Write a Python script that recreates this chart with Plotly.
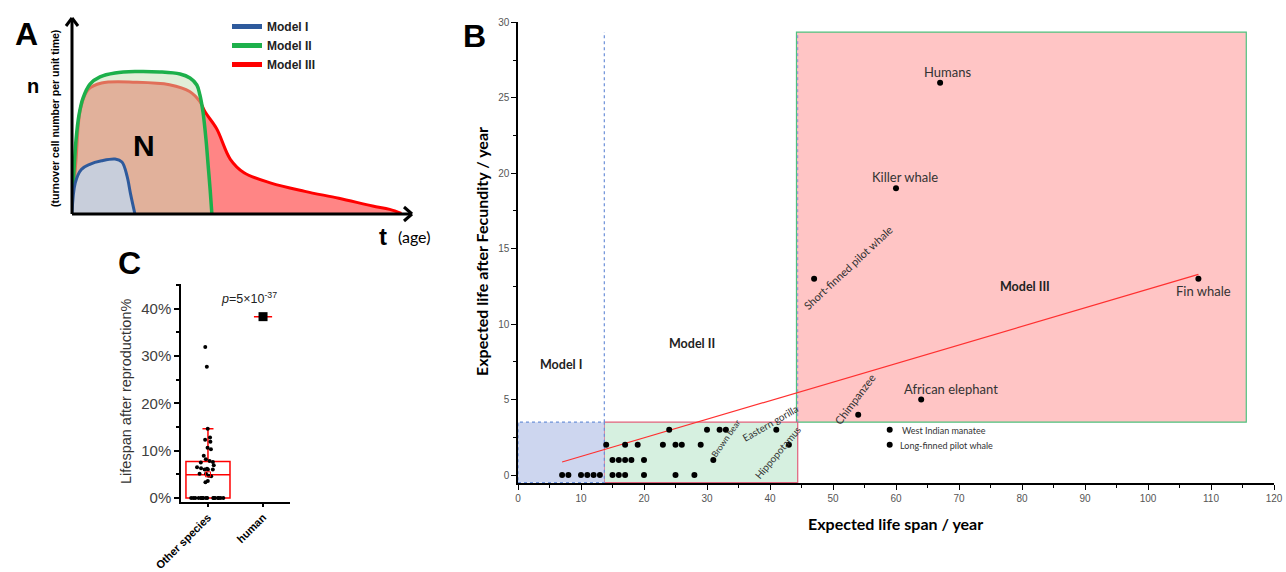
import plotly.graph_objects as go

W, H = 1286, 572


def fx(p):
    return p / W


def fy(p):
    return 1 - p / H


# ---------------- Panel A: schematic curves (t = age, n = turnover cells), arbitrary units ----------------
model1_t = [0, 0.94, 2.72, 5.2, 8.65, 12.6, 14.6, 16.1, 17.1, 18.4]
model1_n = [0, 16.1, 23.2, 25.9, 27.7, 28.6, 27.1, 19.7, 10.6, 0]

model2_t = [0, 0.29, 0.58, 1.17, 2.05, 3.22, 5.26, 8.19, 12.57, 18.4, 25.7, 31.6, 34.5, 36.5, 37.4, 38.3, 39.2, 39.8, 40.4, 40.9]
model2_n = [0, 12.5, 22.9, 38.5, 51.6, 60.4, 67.7, 71.4, 73.4, 74.2, 74.0, 72.9, 70.8, 67.2, 62.0, 53.1, 38.5, 25.5, 12.5, 0]

model3_t = [0, 1.17, 2.51, 4.68, 8.65, 18.6, 28.5, 34.4, 37.4, 38.9, 42.3, 46.3, 50.3, 58.2, 68.1, 78.0, 87.9, 92.9, 96.3]
model3_n = [0, 28.1, 55.0, 64.7, 68.2, 68.6, 67.3, 63.8, 58.5, 53.2, 44.4, 28.5, 21.5, 16.1, 11.8, 8.2, 4.2, 2.4, 0.3]

model_names = ["Model I", "Model II", "Model III"]
model_colors = ["#2e5a9c", "#1db04b", "#ff0000"]

# ---------------- Panel B: expected life span vs life after fecundity ----------------
span_years = [7, 8, 10, 11, 12, 13, 15, 16, 17, 20, 25, 28,
              15, 16, 17, 18, 20, 31,
              14, 17, 19, 23, 25, 26, 29, 43,
              24, 30, 32, 33, 41,
              67, 60, 47, 108, 64, 54, 59, 59]
after_years = [0, 0, 0, 0, 0, 0, 0, 0, 0, 0, 0, 0,
               1, 1, 1, 1, 1, 1,
               2, 2, 2, 2, 2, 2, 2, 2,
               3, 3, 3, 3, 3,
               26, 19, 13, 13, 5, 4, 3, 2]
species = ["", "", "", "", "", "", "", "", "", "", "", "",
           "", "", "", "", "", "Brown bear",
           "", "", "", "", "", "", "", "Hippopotamus",
           "", "", "", "", "Eastern gorilla",
           "Humans", "Killer whale", "Short-finned pilot whale", "Fin whale",
           "African elephant", "Chimpanzee", "West Indian manatee", "Long-finned pilot whale"]

fit_x = [7, 108]
fit_y = [0.86, 13.3]

# model regions (x0, x1, y0, y1) in years
region_I = [0, 13.7, -0.5, 3.5]
region_II = [13.7, 44.4, -0.5, 3.5]
region_III = [44.2, 115.6, 3.5, 29.35]
model_label_pos = {"Model I": (6.8, 7.3), "Model II": (27.6, 8.7), "Model III": (80.4, 12.5)}

# ---------------- Panel C: lifespan after reproduction % ----------------
other_species_pct = [0, 0, 0, 0, 0, 0, 0, 0, 0, 0, 0, 0, 0, 0, 0, 0, 0, 0,
                     3.3, 3.6, 4.6, 4.7, 5.1, 5.1, 6.0, 6.0, 6.0, 6.2, 6.3, 6.5, 6.9,
                     7.5, 7.6, 7.8, 8.2, 8.9, 10.3, 10.6, 11.9, 12.3, 12.8, 14.6, 27.7, 31.9]
other_species_mean = [5.0]
human_pct = [38.3]
c_categories = ["Other species", "human"]
c_ticks = [0, 10, 20, 30, 40]

# ======================================================================
fig = go.Figure()

# ---- Panel A traces ----
fig.add_trace(go.Scatter(x=model3_t, y=model3_n, mode="lines", fill="toself",
                         fillcolor="#ff8585", line=dict(color=model_colors[2], width=3, shape="spline"),
                         showlegend=False, hoverinfo="skip", xaxis="x", yaxis="y"))
fig.add_trace(go.Scatter(x=model2_t, y=model2_n, mode="lines", fill="toself",
                         fillcolor="rgba(195,222,178,0.5)", line=dict(color=model_colors[1], width=3.5, shape="spline"),
                         showlegend=False, hoverinfo="skip", xaxis="x", yaxis="y"))
fig.add_trace(go.Scatter(x=model1_t, y=model1_n, mode="lines", fill="toself",
                         fillcolor="#c8cedb", line=dict(color=model_colors[0], width=3, shape="spline"),
                         showlegend=False, hoverinfo="skip", xaxis="x", yaxis="y"))
for name, col in zip(model_names, model_colors):
    fig.add_trace(go.Scatter(x=[None], y=[None], mode="lines", name="<b>%s</b>" % name,
                             line=dict(color=col, width=5), xaxis="x", yaxis="y"))

# ---- Panel B traces ----
fig.add_trace(go.Scatter(x=fit_x, y=fit_y, mode="lines", line=dict(color="#ff3030", width=1.2),
                         showlegend=False, hoverinfo="skip", xaxis="x2", yaxis="y2"))
fig.add_trace(go.Scatter(x=span_years, y=after_years, mode="markers", text=species,
                         marker=dict(color="black", size=6), showlegend=False,
                         xaxis="x2", yaxis="y2"))

# ---- Panel C traces ----
fig.add_trace(go.Box(y=other_species_pct, x0=1, name=c_categories[0], boxpoints="all", jitter=0.9,
                     pointpos=0, width=0.8, whiskerwidth=0.25,
                     marker=dict(color="black", size=4), line=dict(color="#ff0000", width=1.5),
                     fillcolor="rgba(0,0,0,0)", showlegend=False, xaxis="x3", yaxis="y3"))
fig.add_trace(go.Scatter(x=[1], y=other_species_mean, mode="markers",
                         marker=dict(symbol="square-open", color="#ff0000", size=5),
                         showlegend=False, xaxis="x3", yaxis="y3"))
fig.add_trace(go.Box(y=human_pct, x0=2, name=c_categories[1], boxpoints="all", jitter=0,
                     pointpos=0, width=0.33,
                     marker=dict(color="black", size=9, symbol="square"),
                     line=dict(color="#ff0000", width=1.5),
                     fillcolor="rgba(0,0,0,0)", showlegend=False, xaxis="x3", yaxis="y3"))

# ---- shapes ----
shapes = []
# Panel A arrows
arrow = dict(type="line", xref="paper", yref="paper", line=dict(color="black", width=3))
shapes.append(dict(arrow, x0=fx(72), y0=fy(214), x1=fx(72), y1=fy(18)))
shapes.append(dict(arrow, x0=fx(66), y0=fy(26), x1=fx(72), y1=fy(18)))
shapes.append(dict(arrow, x0=fx(78), y0=fy(26), x1=fx(72), y1=fy(18)))
shapes.append(dict(arrow, x0=fx(72), y0=fy(214), x1=fx(412), y1=fy(214)))
shapes.append(dict(arrow, x0=fx(404), y0=fy(207), x1=fx(412), y1=fy(214)))
shapes.append(dict(arrow, x0=fx(404), y0=fy(221), x1=fx(412), y1=fy(214)))

# Panel B regions
shapes.append(dict(type="rect", xref="x2", yref="y2", layer="below",
                   x0=region_III[0], x1=region_III[1], y0=region_III[2], y1=region_III[3],
                   fillcolor="#ffc5c5", line=dict(color="#4fc27f", width=1.2)))
shapes.append(dict(type="rect", xref="x2", yref="y2", layer="below",
                   x0=region_II[0], x1=region_II[1], y0=region_II[2], y1=region_II[3],
                   fillcolor="#d6f0e0", line=dict(color="#e0607a", width=1.2)))
shapes.append(dict(type="rect", xref="x2", yref="y2", layer="below",
                   x0=region_I[0], x1=region_I[1], y0=region_I[2], y1=region_I[3],
                   fillcolor="#cdd6ef", line=dict(color="#6a8fd8", width=1.2, dash="dot")))
shapes.append(dict(type="line", xref="x2", yref="y2", layer="below",
                   x0=region_I[1], x1=region_I[1], y0=region_I[3], y1=region_III[3],
                   line=dict(color="#6a8fd8", width=1.2, dash="dot")))
shapes.append(dict(type="line", xref="x2", yref="y2", layer="below",
                   x0=region_III[0] + 0.2, x1=region_III[0] + 0.2, y0=region_III[2], y1=region_III[3],
                   line=dict(color="#8a8fd8", width=1, dash="dot")))

# ---- annotations ----
ann = []
def txt(text, x, y, size, color="black", bold=False, family="Liberation Sans", angle=0,
        xanchor="center", yanchor="middle", xref="paper", yref="paper", xshift=0, yshift=0):
    if bold:
        text = "<b>%s</b>" % text
    ann.append(dict(text=text, x=x, y=y, xref=xref, yref=yref, showarrow=False,
                    font=dict(size=size, color=color, family=family), textangle=angle,
                    xanchor=xanchor, yanchor=yanchor, xshift=xshift, yshift=yshift))

# panel letters
txt("A", fx(26), fy(34), 32, bold=True)
txt("B", fx(474), fy(36), 32, bold=True)
txt("C", fx(129), fy(263), 32, bold=True)

# panel A text
txt("n", fx(33), fy(86), 20, bold=True)
txt("(turnover cell number per unit time)", fx(55), fy(118), 10.5, bold=True, angle=-90)
txt("N", fx(144), fy(146), 30, bold=True)
txt("t", fx(383), fy(236), 24, bold=True)
txt("(age)", fx(414), fy(236), 16, family="Lato")

# panel B axis titles
txt("Expected life span / year", fx(895), fy(523), 16, bold=True, family="Lato")
txt("Expected life after Fecundity / year", fx(481), fy(252), 16, bold=True, family="Lato", angle=-90)

# model labels in B
for name, (mx, my) in model_label_pos.items():
    txt(name, mx, my, 12.5, color="#222", bold=True, family="Lato", xref="x2", yref="y2")

# species labels in B
label_style = {
    "Humans": dict(dx=7, dy=11, angle=0, size=13, xanchor="center"),
    "Killer whale": dict(dx=9, dy=11, angle=0, size=13, xanchor="center"),
    "Short-finned pilot whale": dict(dx=34, dy=11, angle=-43, size=11, xanchor="center"),
    "Fin whale": dict(dx=5, dy=-12, angle=0, size=13, xanchor="center"),
    "African elephant": dict(dx=30, dy=11, angle=0, size=13, xanchor="center"),
    "Chimpanzee": dict(dx=-3, dy=16, angle=-53, size=11, xanchor="center"),
    "West Indian manatee": dict(dx=10, dy=-1, angle=0, size=9, xanchor="left"),
    "Long-finned pilot whale": dict(dx=8, dy=-1, angle=0, size=9, xanchor="left"),
    "Eastern gorilla": dict(dx=-6, dy=7, angle=-30, size=10, xanchor="center"),
    "Hippopotamus": dict(dx=-11, dy=-7, angle=-50, size=10, xanchor="center"),
    "Brown bear": dict(dx=13, dy=22, angle=-55, size=8.5, xanchor="center"),
}
for sx, sy, name in zip(span_years, after_years, species):
    if name:
        st = label_style[name]
        txt(name, sx, sy, st["size"], color="#333", family="Lato", angle=st["angle"],
            xanchor=st["xanchor"], xref="x2", yref="y2", xshift=st["dx"], yshift=st["dy"])

# panel C texts
txt("Lifespan after reproduction%", fx(126), fy(392), 14.5, color="#333", angle=-90)
txt("<i>p</i>=5×10<sup>-37</sup>", fx(249), fy(298), 12.5, color="#222")

axis_common = dict(automargin=False, showgrid=False, zeroline=False)

fig.update_layout(
    width=W, height=H,
    margin=dict(l=0, r=0, t=0, b=0, autoexpand=False),
    paper_bgcolor="white", plot_bgcolor="rgba(0,0,0,0)",
    font=dict(family="Liberation Sans", color="black"),
    shapes=shapes, annotations=ann,
    showlegend=True,
    legend=dict(x=fx(227), y=fy(12), xanchor="left", yanchor="top", bgcolor="rgba(0,0,0,0)",
                font=dict(size=12, family="Liberation Sans", color="#222"), tracegroupgap=0),
    xaxis=dict(domain=[fx(72), fx(414)], range=[0, 100], visible=False, fixedrange=True, **axis_common),
    yaxis=dict(domain=[fy(214), fy(22)], range=[0, 100], visible=False, fixedrange=True, **axis_common),
    xaxis2=dict(domain=[fx(518), fx(1274)], range=[0, 120], anchor="y2",
                tickmode="array", tickvals=list(range(0, 121, 10)),
                ticks="outside", ticklen=5, tickwidth=1.2, tickcolor="black",
                minor=dict(ticks="outside", ticklen=3, dtick=5, tickcolor="black"),
                showline=True, linecolor="black", linewidth=1.5,
                tickfont=dict(size=10, color="#555"), **axis_common),
    yaxis2=dict(domain=[fy(483.3), fy(22.3)], range=[-0.55, 30], anchor="x2",
                tickmode="array", tickvals=[0, 5, 10, 15, 20, 25, 30],
                ticks="outside", ticklen=5, tickwidth=1.2, tickcolor="black",
                minor=dict(ticks="outside", ticklen=3, dtick=2.5, tickcolor="black"),
                showline=True, linecolor="black", linewidth=1.5,
                tickfont=dict(size=10, color="#555"), **axis_common),
    xaxis3=dict(domain=[fx(181), fx(290)], range=[0.51, 2.49], anchor="y3",
                tickmode="array", tickvals=[1, 2], ticktext=["<b>%s</b>" % c for c in c_categories],
                tickangle=-45, ticks="outside", ticklen=3, tickwidth=1.5, tickcolor="black",
                showline=True, linecolor="black", linewidth=1.5,
                tickfont=dict(size=11, color="black"), **axis_common),
    yaxis3=dict(domain=[fy(502), fy(284)], range=[-0.85, 45.2], anchor="x3",
                tickmode="array", tickvals=c_ticks, ticktext=["%d%%" % v for v in c_ticks],
                ticks="outside", ticklen=5, tickwidth=1.5, tickcolor="black",
                minor=dict(ticks="outside", ticklen=3, dtick=5, tickcolor="black"),
                showline=True, linecolor="black", linewidth=1.5,
                tickfont=dict(size=15, color="#404040"), **axis_common),
)

fig.write_html("out.html")
